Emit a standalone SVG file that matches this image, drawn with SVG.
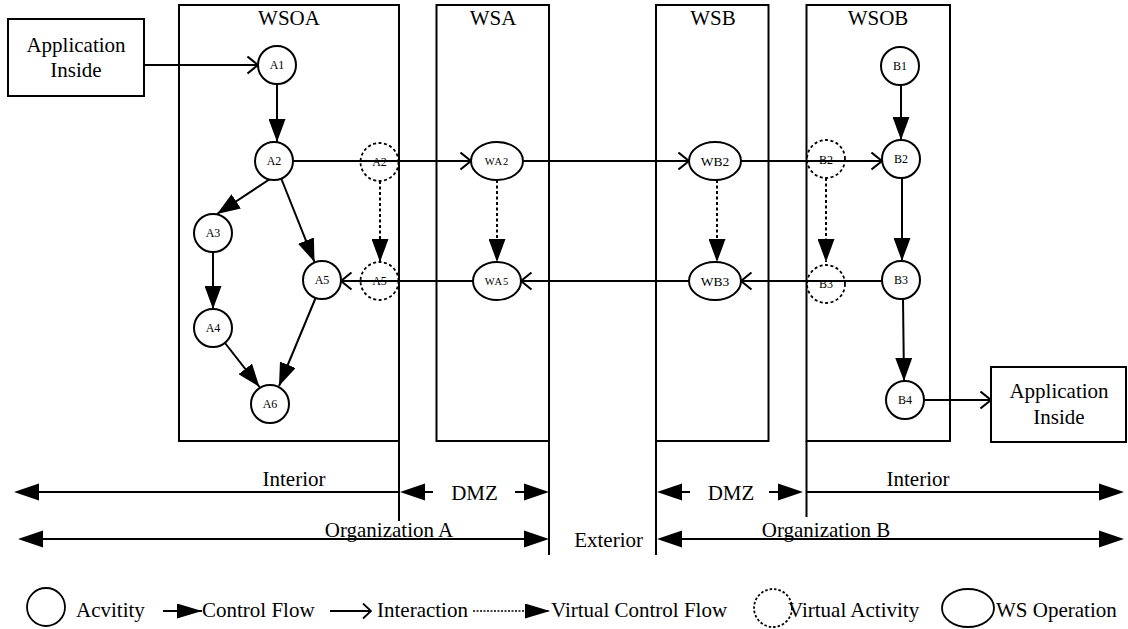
<svg xmlns="http://www.w3.org/2000/svg" width="1128" height="629" viewBox="0 0 1128 629">
<style>
text{font-family:"Liberation Serif","Times New Roman",serif;fill:#000}
.t{font-size:21px}
.n{font-size:12px;text-anchor:middle}
.box{fill:none;stroke:#000;stroke-width:2}
.abox{fill:#fff;stroke:#000;stroke-width:2}
.act{fill:#fff;stroke:#000;stroke-width:2}
.vact{fill:none;stroke:#000;stroke-width:1.8;stroke-dasharray:3,2.5}
.cf{fill:none;stroke:#000;stroke-width:2;marker-end:url(#cf)}
.vcf{fill:none;stroke:#000;stroke-width:2;stroke-dasharray:3,2.5;marker-end:url(#cf)}
.ia{fill:none;stroke:#000;stroke-width:2;marker-end:url(#ia)}
.dim{fill:none;stroke:#000;stroke-width:2}
.vl{fill:none;stroke:#000;stroke-width:2}
</style>
<defs>
<marker id="cf" markerUnits="userSpaceOnUse" viewBox="0 0 23 17" refX="23" refY="8.5" markerWidth="23" markerHeight="17" orient="auto"><path d="M0,0 L23,8.5 L0,17 Z" fill="#000"/></marker>
<marker id="ia" markerUnits="userSpaceOnUse" viewBox="0 0 13 19" refX="11.5" refY="9.5" markerWidth="13" markerHeight="19" orient="auto"><path d="M1,1 L11.5,9.5 L1,18" fill="none" stroke="#000" stroke-width="2"/></marker>
<marker id="lg" markerUnits="userSpaceOnUse" viewBox="0 0 25 15" refX="25" refY="7.5" markerWidth="25" markerHeight="15" orient="auto"><path d="M0,0 L25,7.5 L0,15 Z" fill="#000"/></marker>
<marker id="lgi" markerUnits="userSpaceOnUse" viewBox="0 0 10 17" refX="9" refY="8.5" markerWidth="10" markerHeight="17" orient="auto"><path d="M1,1 L9,8.5 L1,16" fill="none" stroke="#000" stroke-width="1.8"/></marker>
</defs>

<g id="lanes">
<g id="WSOA"><rect class="box" x="179" y="5" width="220" height="436"/><text class="t" x="289" y="25" text-anchor="middle">WSOA</text></g>
<g id="WSA"><rect class="box" x="436.5" y="5" width="112.5" height="436"/><text class="t" x="493" y="25" text-anchor="middle">WSA</text></g>
<g id="WSB"><rect class="box" x="656" y="5" width="112.5" height="436"/><text class="t" x="713" y="25" text-anchor="middle">WSB</text></g>
<g id="WSOB"><rect class="box" x="806.5" y="5" width="143.5" height="436"/><text class="t" x="878" y="25" text-anchor="middle">WSOB</text></g>
</g>

<g id="connectors">
<path class="ia" d="M144,65 L258,65"/>
<path class="cf" d="M277,84 L277,142"/>
<path class="cf" d="M270,179 L217,214"/>
<path class="cf" d="M281,178 L314.5,262"/>
<path class="cf" d="M213,252 L213,309"/>
<path class="cf" d="M225,343 L259.5,387"/>
<path class="cf" d="M316,297 L279,386"/>
<path class="cf" d="M901,85 L901,140"/>
<path class="cf" d="M902,178 L902,261"/>
<path class="cf" d="M903,299 L904,381"/>
<path class="vcf" d="M380,181 L380,262"/>
<path class="vcf" d="M497,180 L497,262"/>
<path class="vcf" d="M717,180 L717,262"/>
<path class="vcf" d="M826,178 L826,262"/>
<path class="ia" d="M293,161 L471,161"/>
<path class="ia" d="M523,161 L689,161"/>
<path class="ia" d="M741,161 L882,161"/>
<path class="ia" d="M882,281 L741,281"/>
<path class="ia" d="M689,281 L521,281"/>
<path class="ia" d="M473,281 L341,281"/>
<path class="ia" d="M924,400 L991,400"/>
</g>

<g id="AppA"><rect class="abox" x="8" y="19" width="136" height="77"/><text class="t" x="76" y="52" text-anchor="middle">Application</text><text class="t" x="76" y="77" text-anchor="middle">Inside</text></g>
<g id="AppB"><rect class="abox" x="991" y="367" width="135" height="75"/><text class="t" x="1059" y="398" text-anchor="middle">Application</text><text class="t" x="1059" y="424" text-anchor="middle">Inside</text></g>

<g id="A1"><circle class="act" cx="277" cy="65" r="19"/><text class="n" x="277" y="69">A1</text></g>
<g id="A2"><circle class="act" cx="274" cy="161" r="19"/><text class="n" x="274" y="165">A2</text></g>
<g id="A3"><circle class="act" cx="213" cy="233" r="19"/><text class="n" x="213" y="237">A3</text></g>
<g id="A4"><circle class="act" cx="213" cy="328" r="19"/><text class="n" x="213" y="332">A4</text></g>
<g id="A5"><circle class="act" cx="322" cy="280" r="19"/><text class="n" x="322" y="284">A5</text></g>
<g id="A6"><circle class="act" cx="270" cy="404" r="19"/><text class="n" x="270" y="408">A6</text></g>
<g id="A2v"><circle class="vact" cx="379.5" cy="162" r="19"/><text class="n" x="379.5" y="166">A2</text></g>
<g id="A5v"><circle class="vact" cx="379.5" cy="281" r="19"/><text class="n" x="379.5" y="285">A5</text></g>
<g id="WA2"><ellipse class="act" cx="497" cy="161" rx="26" ry="19"/><text x="497" y="165" font-size="10.5" letter-spacing="1" text-anchor="middle">WA2</text></g>
<g id="WA5"><ellipse class="act" cx="497" cy="281" rx="24" ry="19"/><text x="497" y="285" font-size="10.5" letter-spacing="1" text-anchor="middle">WA5</text></g>
<g id="WB2"><ellipse class="act" cx="715" cy="161" rx="26" ry="19"/><text x="715" y="166" font-size="13.5" text-anchor="middle">WB2</text></g>
<g id="WB3"><ellipse class="act" cx="715" cy="281" rx="26" ry="19"/><text x="715" y="286" font-size="13.5" text-anchor="middle">WB3</text></g>
<g id="B2v"><circle class="vact" cx="826" cy="159" r="19"/><text class="n" x="826" y="164">B2</text></g>
<g id="B3v"><circle class="vact" cx="826" cy="284" r="19"/><text class="n" x="826" y="288">B3</text></g>
<g id="B1"><circle class="act" cx="900" cy="66" r="19"/><text class="n" x="900" y="70">B1</text></g>
<g id="B2"><circle class="act" cx="901" cy="159" r="19"/><text class="n" x="901" y="163">B2</text></g>
<g id="B3"><circle class="act" cx="901" cy="280" r="19"/><text class="n" x="901" y="284">B3</text></g>
<g id="B4"><circle class="act" cx="905" cy="400" r="19"/><text class="n" x="905" y="404">B4</text></g>

<g id="zones">
<path class="vl" d="M399,441 L399,521 M549,441 L549,555 M656,441 L656,555 M806.5,441 L806.5,517"/>
<path class="dim" d="M39,492 L399,492"/>
<path d="M14,492 L39,483.5 L39,500.5 Z" fill="#000"/>
<text class="t" x="294" y="486" text-anchor="middle">Interior</text>
<path class="dim" d="M425,492 L433,492 M515,492 L525,492"/>
<path d="M400,492 L425,483.5 L425,500.5 Z M549,492 L524,483.5 L524,500.5 Z" fill="#000"/>
<text class="t" x="474.5" y="500" text-anchor="middle">DMZ</text>
<path class="dim" d="M681,492 L690,492 M769,492 L778,492"/>
<path d="M657,492 L682,483.5 L682,500.5 Z M803,492 L778,483.5 L778,500.5 Z" fill="#000"/>
<text class="t" x="731" y="500" text-anchor="middle">DMZ</text>
<path class="dim" d="M806.5,492 L1099,492"/>
<path d="M1124,492 L1099,483.5 L1099,500.5 Z" fill="#000"/>
<text class="t" x="918" y="486" text-anchor="middle">Interior</text>
<path class="dim" d="M43,539 L524,539"/>
<path d="M18,539 L43,530.5 L43,547.5 Z M549,539 L524,530.5 L524,547.5 Z" fill="#000"/>
<text class="t" x="389" y="537" text-anchor="middle">Organization A</text>
<text class="t" x="643" y="547" text-anchor="end">Exterior</text>
<path class="dim" d="M681,539 L1099,539"/>
<path d="M657,539 L682,530.5 L682,547.5 Z M1124,539 L1099,530.5 L1099,547.5 Z" fill="#000"/>
<text class="t" x="826" y="537" text-anchor="middle">Organization B</text>
</g>

<g id="legend">
<circle cx="46" cy="607" r="19" fill="none" stroke="#000" stroke-width="1.8"/>
<text class="t" x="76" y="617">Acvitity</text>
<path d="M163,611 L202,611" stroke="#000" stroke-width="2" marker-end="url(#lg)"/>
<text class="t" x="202" y="617">Control Flow</text>
<path d="M330,611 L371,611" stroke="#000" stroke-width="1.8" marker-end="url(#lgi)"/>
<text class="t" x="377" y="617">Interaction</text>
<path d="M473,611 L550,611" stroke="#000" stroke-width="1.5" stroke-dasharray="2,1.5" marker-end="url(#lg)"/>
<text class="t" x="551" y="617">Virtual Control Flow</text>
<circle cx="773" cy="608" r="19" fill="none" stroke="#000" stroke-width="1.8" stroke-dasharray="2.5,2"/>
<text class="t" x="788" y="617">Virtual Activity</text>
<ellipse cx="968" cy="608" rx="26" ry="19" fill="none" stroke="#000" stroke-width="1.8"/>
<text class="t" x="996" y="617">WS Operation</text>
</g>
</svg>
